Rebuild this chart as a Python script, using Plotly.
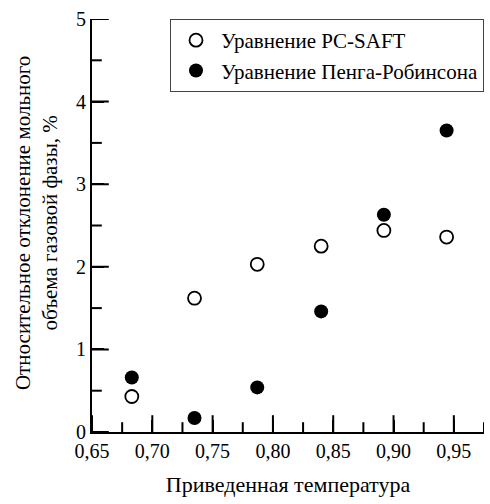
import plotly.graph_objects as go

t_reduced = [0.683, 0.735, 0.787, 0.840, 0.892, 0.944]
dev_pcsaft = [0.43, 1.62, 2.03, 2.25, 2.44, 2.36]
dev_pr = [0.66, 0.17, 0.54, 1.46, 2.63, 3.65]

x_ticks = [0.65, 0.70, 0.75, 0.80, 0.85, 0.90, 0.95]
x_tick_labels = ["0,65", "0,70", "0,75", "0,80", "0,85", "0,90", "0,95"]
x_minor_ticks = [0.675, 0.725, 0.775, 0.825, 0.875, 0.925, 0.975]
y_ticks = [0, 1, 2, 3, 4, 5]
y_minor_ticks = [0.5, 1.5, 2.5, 3.5, 4.5]

X_MIN, X_MAX = 0.65, 0.975
Y_MIN, Y_MAX = 0, 5
FONT = "Liberation Serif"

fig = go.Figure()
fig.add_trace(go.Scatter(
    x=t_reduced, y=dev_pcsaft, mode="markers", name="Уравнение PC-SAFT",
    marker=dict(symbol="circle-open", size=13, color="black", line=dict(width=1.8, color="black")),
))
fig.add_trace(go.Scatter(
    x=t_reduced, y=dev_pr, mode="markers", name="Уравнение Пенга-Робинсона",
    marker=dict(symbol="circle", size=14, color="black"),
))


def tick_marks(xs, ys, symbol, size):
    # Tick marks drawn as line markers on the axis; the half outside the plot area is clipped.
    fig.add_trace(go.Scatter(
        x=xs, y=ys, mode="markers", showlegend=False, hoverinfo="skip", cliponaxis=True,
        marker=dict(symbol=symbol, size=size, color="black", line=dict(width=2, color="black")),
    ))


tick_marks(x_ticks, [Y_MIN] * len(x_ticks), "line-ns", 24)
tick_marks(x_minor_ticks, [Y_MIN] * len(x_minor_ticks), "line-ns", 14)
tick_marks([X_MIN] * len(y_ticks), y_ticks, "line-ew", 24)
tick_marks([X_MIN] * len(y_minor_ticks), y_minor_ticks, "line-ew", 14)

fig.update_layout(
    template="none",
    font=dict(family=FONT, color="black"),
    xaxis=dict(
        range=[X_MIN, X_MAX], tickmode="array", tickvals=x_ticks, ticktext=x_tick_labels,
        showline=True, linecolor="black", linewidth=2,
        ticks="inside", ticklen=12, tickwidth=2, tickcolor="black",
        showgrid=False, zeroline=False,
        tickfont=dict(family=FONT, size=20, color="black"),
        title=dict(text="Приведенная температура", font=dict(family=FONT, size=22, color="black"), standoff=16),
    ),
    yaxis=dict(
        range=[Y_MIN, Y_MAX], tickmode="array", tickvals=y_ticks,
        showline=True, linecolor="black", linewidth=2,
        ticks="inside", ticklen=12, tickwidth=2, tickcolor="black",
        showgrid=False, zeroline=False,
        tickfont=dict(family=FONT, size=20, color="black"),
    ),
    width=490, height=504, margin=dict(l=92, r=6, t=19, b=72),
    showlegend=True,
    legend=dict(
        x=1.0, y=1.0, xanchor="right", yanchor="top",
        bordercolor="#444", borderwidth=1, bgcolor="white",
        font=dict(family=FONT, size=21, color="black"),
        itemwidth=40, tracegroupgap=0,
    ),
)

fig.add_annotation(
    text="Относительное отклонение мольного<br>объема газовой фазы, %", xref="paper", yref="paper",
    x=-(92 - 36) / 392.3, y=(432 - 223) / 413, showarrow=False, textangle=-90,
    font=dict(family=FONT, size=21, color="black"), xanchor="center", yanchor="middle",
)

fig.write_html("out.html")
